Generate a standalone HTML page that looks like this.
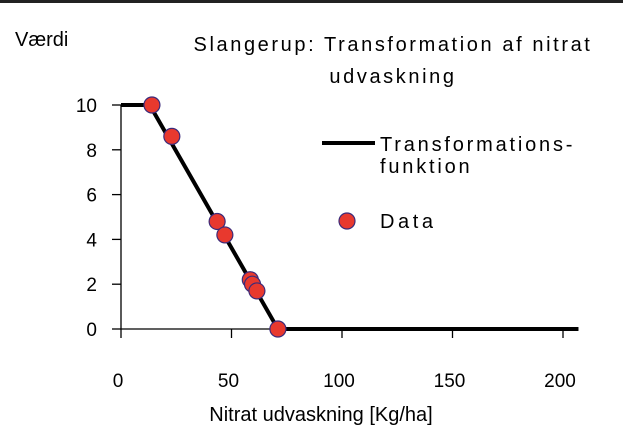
<!DOCTYPE html>
<html><head><meta charset="utf-8"><style>
body{margin:0;background:#fff;}
svg{display:block;font-family:"Liberation Sans",sans-serif;}
</style></head><body>
<svg width="623" height="436">
<rect x="0" y="0" width="623" height="3" fill="#222"/>
<text x="15" y="46" font-size="20">Værdi</text>
<text x="393" y="51" font-size="20" text-anchor="middle" letter-spacing="2.6">Slangerup: Transformation af nitrat</text>
<text x="393" y="83" font-size="20" text-anchor="middle" letter-spacing="2.6">udvaskning</text>
<g id="axes"></g>
<g id="marks"></g>
<line x1="322" y1="143" x2="375" y2="143" stroke="#000" stroke-width="4"/>
<text x="380" y="151" font-size="20" letter-spacing="2.8">Transformations-</text>
<text x="380" y="173" font-size="20" letter-spacing="2.8">funktion</text>
<circle cx="347" cy="221" r="8" fill="#e8392e" stroke="#3b2a7a" stroke-width="1.2"/>
<text x="380" y="228" font-size="20" letter-spacing="3.6">Data</text>
<text x="321" y="421" font-size="20" text-anchor="middle">Nitrat udvaskning  [Kg/ha]</text>
</svg>
<script>
const xTicks=[0,50,100,150,200];
const yTicks=[0,2,4,6,8,10];
const lineX=[0,13,71,207];
const lineY=[10,10,0,0];
const dataX=[14,23,43.5,47,58.5,59.5,61.5,71];
const dataY=[10,8.6,4.8,4.2,2.2,2.0,1.7,0];
const NS="http://www.w3.org/2000/svg";
const sx=v=>121+v*2.21, sy=v=>329-v*22.4;
const axes=document.getElementById('axes'), marks=document.getElementById('marks');
function mk(tag,attrs,parent){const e=document.createElementNS(NS,tag);for(const k in attrs)e.setAttribute(k,attrs[k]);parent.appendChild(e);return e;}
let a=mk('line',{x1:sx(0),y1:sy(0),x2:sx(207),y2:sy(0),stroke:'#000','stroke-width':1.3},axes);


a=mk('line',{x1:sx(0),y1:sy(0),x2:sx(0),y2:sy(10),stroke:'#000','stroke-width':1.3},axes);


xTicks.forEach(v=>{
 let t=mk('line',{x1:sx(v),y1:sy(0),x2:sx(v),y2:sy(0)+9,stroke:'#000','stroke-width':1.3},axes);
 
 
 let l=mk('text',{x:sx(v)-3,y:387,'font-size':19,'text-anchor':'middle'},axes);l.textContent=v;
 
 
});
yTicks.forEach(v=>{
 let t=mk('line',{x1:sx(0)-9,y1:sy(v),x2:sx(0),y2:sy(v),stroke:'#000','stroke-width':1.3},axes);
 
 
 let l=mk('text',{x:97,y:sy(v)+7,'font-size':19,'text-anchor':'end'},axes);l.textContent=v;
 
 
});
let p=mk('polyline',{points:lineX.map((x,i)=>sx(x)+','+sy(lineY[i])).join(' '),fill:'none',stroke:'#000','stroke-width':4},marks);


dataX.forEach((x,i)=>{
 let c=mk('circle',{cx:sx(x),cy:sy(dataY[i]),r:8,fill:'#e8392e',stroke:'#3b2a7a','stroke-width':1.2},marks);
 
 
});
</script>
</body></html>
